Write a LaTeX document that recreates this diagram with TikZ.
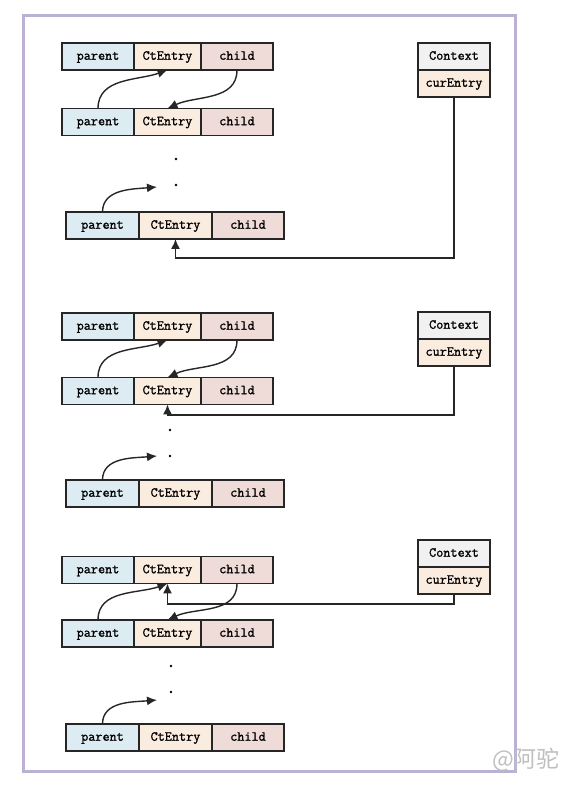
\documentclass[tikz,border=0pt]{standalone}
\usepackage{fontspec}
\usepackage{tikz}
\usetikzlibrary{positioning,arrows.meta}
\newfontfamily\cjk{Noto Sans CJK SC}
\newfontface\cellfont[FakeBold=1.2]{Latin Modern Mono}
\definecolor{parentblue}{RGB}{221,236,242}
\definecolor{entrypeach}{RGB}{251,236,224}
\definecolor{childpink}{RGB}{239,219,216}
\definecolor{ctxgray}{RGB}{241,241,241}
\definecolor{boxline}{RGB}{38,38,38}
\definecolor{framepurple}{RGB}{186,177,212}
\tikzstyle{cell} = [draw=boxline, line width=1.3pt, minimum height=27pt, inner sep=0pt, outer sep=0pt, text height=9pt, text depth=2.5pt, font=\fontsize{13.8}{14}\cellfont]
\tikzstyle{parentcell} = [cell, fill=parentblue, minimum width=72pt]
\tikzstyle{entrycell} = [cell, fill=entrypeach, minimum width=67pt]
\tikzstyle{childcell} = [cell, fill=childpink, minimum width=72pt]
\tikzstyle{ctxcell} = [cell, fill=ctxgray, minimum width=72pt]
\tikzstyle{curcell} = [cell, fill=entrypeach, minimum width=72pt]
\tikzstyle{dot} = [circle, fill=black, inner sep=0pt, minimum size=2.8pt]
\tikzstyle{link} = [draw=boxline, line width=1.4pt, -{Latex[length=10pt,width=9pt]}]

\begin{document}
\begin{tikzpicture}[x=1pt, y=1pt]
			\useasboundingbox (0,0) rectangle (561,800);
			\draw[framepurple, line width=3pt] (23,28) rectangle (515,784);
			% first
			\node[parentcell] (pA1) at (98,743.5) {parent};
			\node[entrycell, right=0pt of pA1] (eA1) {CtEntry};
			\node[childcell, right=0pt of eA1] (cA1) {child};
			\node[parentcell] (pB1) at (98,678) {parent};
			\node[entrycell, right=0pt of pB1] (eB1) {CtEntry};
			\node[childcell, right=0pt of eB1] (cB1) {child};
			\node[dot] (d1a) at (176,641) {};
			\node[dot] (d1b) at (176,615) {};
			\coordinate (t1) at (157,613);
			\node[parentcell, minimum width=73pt] (pC1) at (102.5,574.5) {parent};
			\node[entrycell, minimum width=73pt, right=0pt of pC1] (eC1) {CtEntry};
			\node[childcell, right=0pt of eC1] (cC1) {child};
			\node[ctxcell] (ctx1) at (454,743.5) {Context};
			\node[curcell, below=0pt of ctx1] (cur1) {curEntry};
			\draw[link] (pB1.north) to[out=90, in=200] (eA1.south);
			\draw[link] (cA1.south) to[out=-90, in=25] (eB1.north);
			\draw[link] (pC1.north) to[out=90, in=185] (t1);
			\draw[link] (cur1.south) -- ++(0,-161) -| (eC1.south);
			% second
			\node[parentcell] (pA2) at (98,473.5) {parent};
			\node[entrycell, right=0pt of pA2] (eA2) {CtEntry};
			\node[childcell, right=0pt of eA2] (cA2) {child};
			\node[parentcell] (pB2) at (98,409) {parent};
			\node[entrycell, right=0pt of pB2] (eB2) {CtEntry};
			\node[childcell, right=0pt of eB2] (cB2) {child};
			\node[dot] (d2a) at (170,370) {};
			\node[dot] (d2b) at (170,344) {};
			\coordinate (t2) at (157,344);
			\node[parentcell, minimum width=73pt] (pC2) at (102.5,306.5) {parent};
			\node[entrycell, minimum width=73pt, right=0pt of pC2] (eC2) {CtEntry};
			\node[childcell, right=0pt of eC2] (cC2) {child};
			\node[ctxcell] (ctx2) at (454,474.5) {Context};
			\node[curcell, below=0pt of ctx2] (cur2) {curEntry};
			\draw[link] (pB2.north) to[out=90, in=200] (eA2.south);
			\draw[link] (cA2.south) to[out=-90, in=25] (eB2.north);
			\draw[link] (pC2.north) to[out=90, in=185] (t2);
			\draw[link] (cur2.south) -- ++(0,-49) -| (eB2.south);
			% third
			\node[parentcell] (pA3) at (98,230) {parent};
			\node[entrycell, right=0pt of pA3] (eA3) {CtEntry};
			\node[childcell, right=0pt of eA3] (cA3) {child};
			\node[parentcell] (pB3) at (98,166.5) {parent};
			\node[entrycell, right=0pt of pB3] (eB3) {CtEntry};
			\node[childcell, right=0pt of eB3] (cB3) {child};
			\node[dot] (d3a) at (171,134) {};
			\node[dot] (d3b) at (171,108) {};
			\coordinate (t3) at (157,100);
			\node[parentcell, minimum width=73pt] (pC3) at (102.5,62.5) {parent};
			\node[entrycell, minimum width=73pt, right=0pt of pC3] (eC3) {CtEntry};
			\node[childcell, right=0pt of eC3] (cC3) {child};
			\node[ctxcell] (ctx3) at (454,246.5) {Context};
			\node[curcell, below=0pt of ctx3] (cur3) {curEntry};
			\draw[link] (pB3.north) to[out=90, in=200] (eA3.south);
			\draw[link] (cA3.south) to[out=-90, in=25] (eB3.north);
			\draw[link] (pC3.north) to[out=90, in=185] (t3);
			\draw[link] (cur3.south) -- ++(0,-10) -| (eA3.south);
			\node[font=\cjk\fontsize{23}{23}\selectfont, text=black!25] (mark) at (526,40) {@阿驼};
		\end{tikzpicture}
\end{document}
